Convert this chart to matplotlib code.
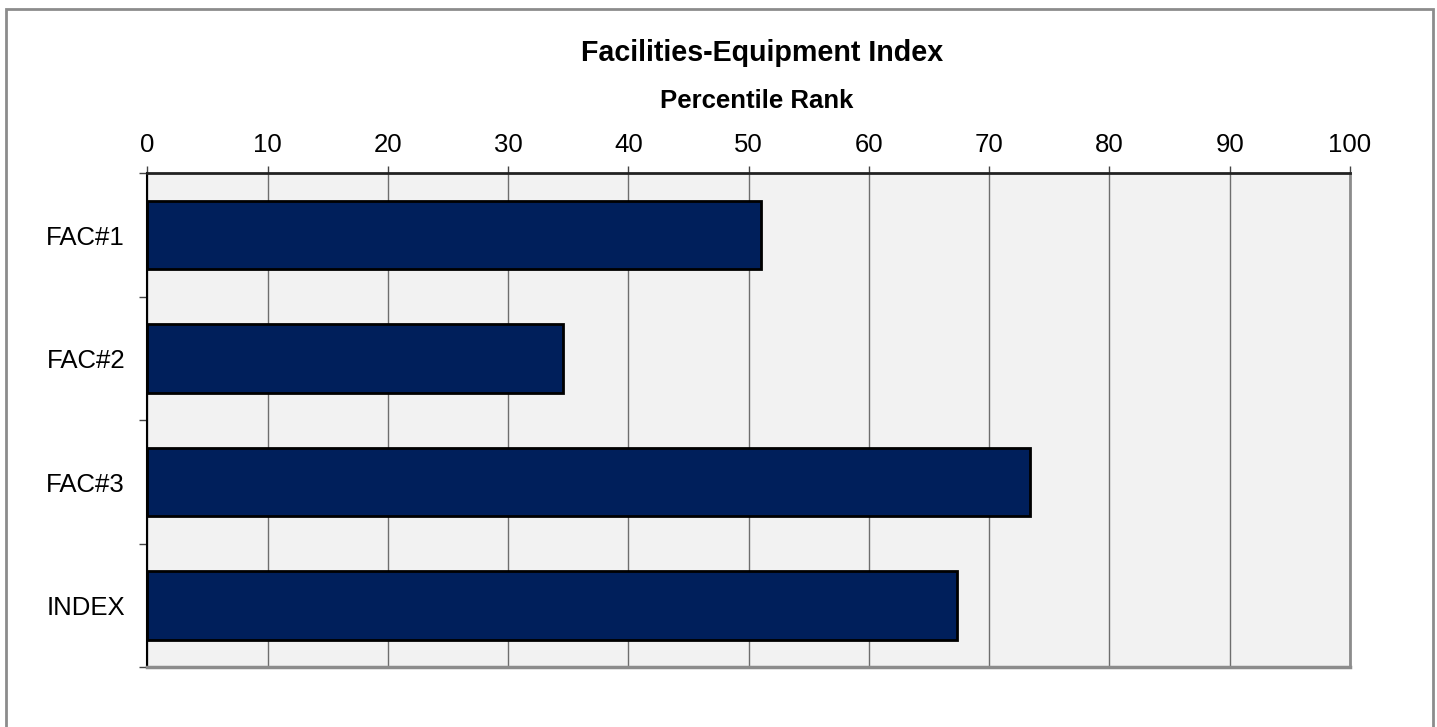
import matplotlib
matplotlib.use("Agg")
import matplotlib.pyplot as plt
from matplotlib.patches import Rectangle
import numpy as np

categories = ["FAC#1", "FAC#2", "FAC#3", "INDEX"]
percentiles = [51.0, 34.6, 73.4, 67.3]
x_ticks = [0, 10, 20, 30, 40, 50, 60, 70, 80, 90, 100]

plt.rcParams["font.family"] = ["Liberation Sans", "DejaVu Sans"]

W, H = 1437, 727
fig = plt.figure(figsize=(W / 100, H / 100), dpi=100)
fig.patch.set_facecolor("white")

# outer frame of the chart area
fig.patches.append(Rectangle((6 / W, -0.05), (1433 - 6) / W, 1.05 - 9 / H,
                             transform=fig.transFigure, fill=False,
                             edgecolor="#8c8c8c", linewidth=2.0))

ax = fig.add_axes([147.3 / W, 1 - 667.3 / H, (1350 - 147.3) / W, (667.3 - 173.3) / H])
ax.set_facecolor("#f2f2f2")

n = len(categories)
ypos = np.arange(n)
ax.barh(ypos, percentiles, height=0.555, color="#001f5b",
        edgecolor="black", linewidth=2.0, zorder=3)

ax.set_xlim(0, 100)
ax.set_ylim(n - 0.5, -0.5)
ax.set_xticks(x_ticks)
ax.xaxis.tick_top()
ax.tick_params(axis="x", direction="out", length=5, width=1, color="#444444",
               labelsize=18.5, pad=6.5)
ax.grid(axis="x", color="#6e6e6e", linewidth=1.0, zorder=1)

# y ticks at category boundaries, labels at category centres
ax.set_yticks(np.arange(n + 1) - 0.5)
ax.set_yticklabels([])
ax.set_yticks(ypos, minor=True)
ax.set_yticklabels(categories, minor=True)
ax.tick_params(axis="y", which="major", direction="out", length=6, width=1, color="#444444")
ax.tick_params(axis="y", which="minor", length=0, labelsize=18.5, pad=16)

for side, col, lw in [("left", "black", 1.5), ("top", "#222222", 2.0),
                      ("right", "#8c8c8c", 2.0), ("bottom", "#8c8c8c", 2.5)]:
    ax.spines[side].set_color(col)
    ax.spines[side].set_linewidth(lw)

fig.text(762 / W, 1 - 53 / H, "Facilities-Equipment Index", ha="center", va="center",
         fontsize=20.6, fontweight="bold")
fig.text(757 / W, 1 - 101 / H, "Percentile Rank", ha="center", va="center",
         fontsize=18.5, fontweight="bold")

fig.savefig("out.png", dpi=100)
